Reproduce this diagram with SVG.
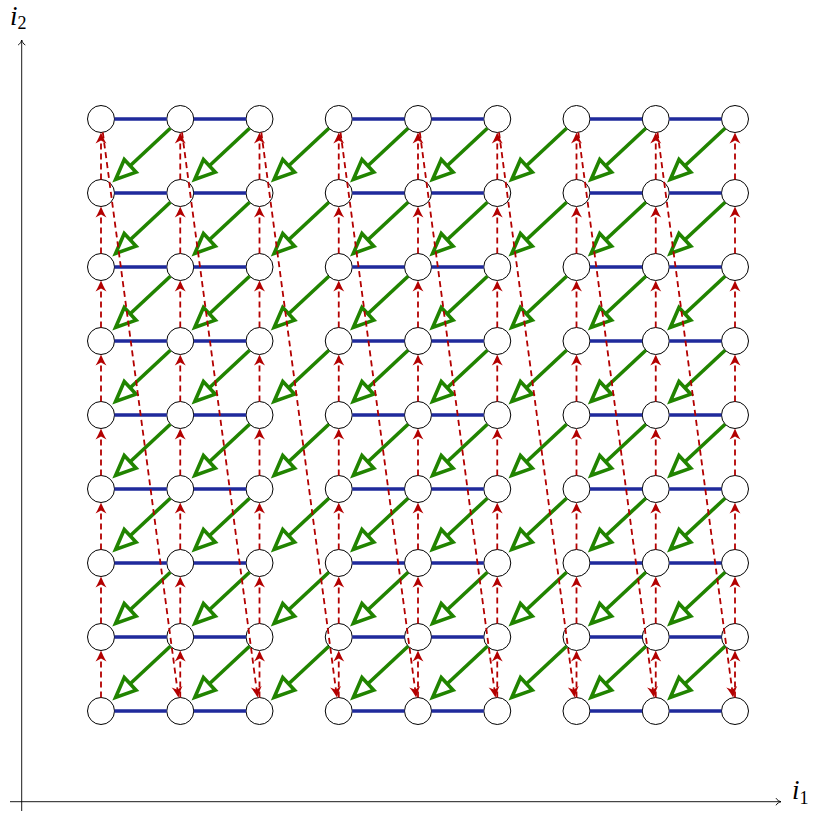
<svg xmlns="http://www.w3.org/2000/svg" width="814" height="817" viewBox="0 0 814 817">
<style>
.nd{fill:#fff;stroke:#000;stroke-width:1}
.bl{fill:none;stroke:#1f2a9c;stroke-width:3.4}
.gr{stroke:#218400;stroke-width:3.6;marker-end:url(#gh)}
.rd{stroke:#b30000;stroke-width:1.8;stroke-dasharray:6 4;marker-end:url(#rh)}
.ax{stroke:#000;stroke-width:0.9;fill:none;marker-end:url(#ah)}
.lb{font-family:"Liberation Serif",serif;font-style:italic;font-size:27px;fill:#000}
.sb{font-style:normal;font-size:18px}
</style>
<defs>
<marker id="gh" markerUnits="userSpaceOnUse" viewBox="-4 -14 34 28" markerWidth="34" markerHeight="28" refX="0" refY="0" orient="auto" overflow="visible"><path d="M0,-8.7 L20,0 L0,8.7 Z" fill="#fff" stroke="#218400" stroke-width="3.6"/></marker>
<marker id="rh" markerUnits="userSpaceOnUse" viewBox="-10 -7 15 14" markerWidth="15" markerHeight="14" refX="0" refY="0" orient="auto" overflow="visible"><path d="M3,0 C0,-1.2 -5,-3.5 -8,-5.5 L-5,0 L-8,5.5 C-5,3.5 0,1.2 3,0 Z" fill="#b30000"/></marker>
<marker id="ah" markerUnits="userSpaceOnUse" viewBox="-8 -6 10 12" markerWidth="10" markerHeight="12" refX="0" refY="0" orient="auto" overflow="visible"><path d="M-5,-3.6 C-4,-1.5 -1.5,-0.4 0,0 C-1.5,0.4 -4,1.5 -5,3.6" fill="none" stroke="#000" stroke-width="0.9"/></marker>
</defs>
<g id="axes">
<line class="ax" x1="21.7" y1="811" x2="21.7" y2="40"/>
<line class="ax" x1="10" y1="801.7" x2="781" y2="801.7"/>
<text class="lb" x="10" y="25">i<tspan class="sb" dy="4">2</tspan></text>
<text class="lb" x="792" y="799">i<tspan class="sb" dy="5">1</tspan></text>
</g>
<g id="nodes">
<g id="n00"><circle class="nd" cx="101" cy="119" r="13.5"/></g>
<g id="n01"><circle class="nd" cx="180.25" cy="119" r="13.5"/></g>
<g id="n02"><circle class="nd" cx="259.5" cy="119" r="13.5"/></g>
<g id="n03"><circle class="nd" cx="338.75" cy="119" r="13.5"/></g>
<g id="n04"><circle class="nd" cx="418" cy="119" r="13.5"/></g>
<g id="n05"><circle class="nd" cx="497.25" cy="119" r="13.5"/></g>
<g id="n06"><circle class="nd" cx="576.5" cy="119" r="13.5"/></g>
<g id="n07"><circle class="nd" cx="655.75" cy="119" r="13.5"/></g>
<g id="n08"><circle class="nd" cx="735" cy="119" r="13.5"/></g>
<g id="n10"><circle class="nd" cx="101" cy="193" r="13.5"/></g>
<g id="n11"><circle class="nd" cx="180.25" cy="193" r="13.5"/></g>
<g id="n12"><circle class="nd" cx="259.5" cy="193" r="13.5"/></g>
<g id="n13"><circle class="nd" cx="338.75" cy="193" r="13.5"/></g>
<g id="n14"><circle class="nd" cx="418" cy="193" r="13.5"/></g>
<g id="n15"><circle class="nd" cx="497.25" cy="193" r="13.5"/></g>
<g id="n16"><circle class="nd" cx="576.5" cy="193" r="13.5"/></g>
<g id="n17"><circle class="nd" cx="655.75" cy="193" r="13.5"/></g>
<g id="n18"><circle class="nd" cx="735" cy="193" r="13.5"/></g>
<g id="n20"><circle class="nd" cx="101" cy="267" r="13.5"/></g>
<g id="n21"><circle class="nd" cx="180.25" cy="267" r="13.5"/></g>
<g id="n22"><circle class="nd" cx="259.5" cy="267" r="13.5"/></g>
<g id="n23"><circle class="nd" cx="338.75" cy="267" r="13.5"/></g>
<g id="n24"><circle class="nd" cx="418" cy="267" r="13.5"/></g>
<g id="n25"><circle class="nd" cx="497.25" cy="267" r="13.5"/></g>
<g id="n26"><circle class="nd" cx="576.5" cy="267" r="13.5"/></g>
<g id="n27"><circle class="nd" cx="655.75" cy="267" r="13.5"/></g>
<g id="n28"><circle class="nd" cx="735" cy="267" r="13.5"/></g>
<g id="n30"><circle class="nd" cx="101" cy="341" r="13.5"/></g>
<g id="n31"><circle class="nd" cx="180.25" cy="341" r="13.5"/></g>
<g id="n32"><circle class="nd" cx="259.5" cy="341" r="13.5"/></g>
<g id="n33"><circle class="nd" cx="338.75" cy="341" r="13.5"/></g>
<g id="n34"><circle class="nd" cx="418" cy="341" r="13.5"/></g>
<g id="n35"><circle class="nd" cx="497.25" cy="341" r="13.5"/></g>
<g id="n36"><circle class="nd" cx="576.5" cy="341" r="13.5"/></g>
<g id="n37"><circle class="nd" cx="655.75" cy="341" r="13.5"/></g>
<g id="n38"><circle class="nd" cx="735" cy="341" r="13.5"/></g>
<g id="n40"><circle class="nd" cx="101" cy="415" r="13.5"/></g>
<g id="n41"><circle class="nd" cx="180.25" cy="415" r="13.5"/></g>
<g id="n42"><circle class="nd" cx="259.5" cy="415" r="13.5"/></g>
<g id="n43"><circle class="nd" cx="338.75" cy="415" r="13.5"/></g>
<g id="n44"><circle class="nd" cx="418" cy="415" r="13.5"/></g>
<g id="n45"><circle class="nd" cx="497.25" cy="415" r="13.5"/></g>
<g id="n46"><circle class="nd" cx="576.5" cy="415" r="13.5"/></g>
<g id="n47"><circle class="nd" cx="655.75" cy="415" r="13.5"/></g>
<g id="n48"><circle class="nd" cx="735" cy="415" r="13.5"/></g>
<g id="n50"><circle class="nd" cx="101" cy="489" r="13.5"/></g>
<g id="n51"><circle class="nd" cx="180.25" cy="489" r="13.5"/></g>
<g id="n52"><circle class="nd" cx="259.5" cy="489" r="13.5"/></g>
<g id="n53"><circle class="nd" cx="338.75" cy="489" r="13.5"/></g>
<g id="n54"><circle class="nd" cx="418" cy="489" r="13.5"/></g>
<g id="n55"><circle class="nd" cx="497.25" cy="489" r="13.5"/></g>
<g id="n56"><circle class="nd" cx="576.5" cy="489" r="13.5"/></g>
<g id="n57"><circle class="nd" cx="655.75" cy="489" r="13.5"/></g>
<g id="n58"><circle class="nd" cx="735" cy="489" r="13.5"/></g>
<g id="n60"><circle class="nd" cx="101" cy="563" r="13.5"/></g>
<g id="n61"><circle class="nd" cx="180.25" cy="563" r="13.5"/></g>
<g id="n62"><circle class="nd" cx="259.5" cy="563" r="13.5"/></g>
<g id="n63"><circle class="nd" cx="338.75" cy="563" r="13.5"/></g>
<g id="n64"><circle class="nd" cx="418" cy="563" r="13.5"/></g>
<g id="n65"><circle class="nd" cx="497.25" cy="563" r="13.5"/></g>
<g id="n66"><circle class="nd" cx="576.5" cy="563" r="13.5"/></g>
<g id="n67"><circle class="nd" cx="655.75" cy="563" r="13.5"/></g>
<g id="n68"><circle class="nd" cx="735" cy="563" r="13.5"/></g>
<g id="n70"><circle class="nd" cx="101" cy="637" r="13.5"/></g>
<g id="n71"><circle class="nd" cx="180.25" cy="637" r="13.5"/></g>
<g id="n72"><circle class="nd" cx="259.5" cy="637" r="13.5"/></g>
<g id="n73"><circle class="nd" cx="338.75" cy="637" r="13.5"/></g>
<g id="n74"><circle class="nd" cx="418" cy="637" r="13.5"/></g>
<g id="n75"><circle class="nd" cx="497.25" cy="637" r="13.5"/></g>
<g id="n76"><circle class="nd" cx="576.5" cy="637" r="13.5"/></g>
<g id="n77"><circle class="nd" cx="655.75" cy="637" r="13.5"/></g>
<g id="n78"><circle class="nd" cx="735" cy="637" r="13.5"/></g>
<g id="n80"><circle class="nd" cx="101" cy="711" r="13.5"/></g>
<g id="n81"><circle class="nd" cx="180.25" cy="711" r="13.5"/></g>
<g id="n82"><circle class="nd" cx="259.5" cy="711" r="13.5"/></g>
<g id="n83"><circle class="nd" cx="338.75" cy="711" r="13.5"/></g>
<g id="n84"><circle class="nd" cx="418" cy="711" r="13.5"/></g>
<g id="n85"><circle class="nd" cx="497.25" cy="711" r="13.5"/></g>
<g id="n86"><circle class="nd" cx="576.5" cy="711" r="13.5"/></g>
<g id="n87"><circle class="nd" cx="655.75" cy="711" r="13.5"/></g>
<g id="n88"><circle class="nd" cx="735" cy="711" r="13.5"/></g>
</g>
<g id="connectors">
<g id="blue">
<path class="bl" d="M114.5,119H166.75M193.75,119H246M352.25,119H404.5M431.5,119H483.75M590,119H642.25M669.25,119H721.5"/>
<path class="bl" d="M114.5,193H166.75M193.75,193H246M352.25,193H404.5M431.5,193H483.75M590,193H642.25M669.25,193H721.5"/>
<path class="bl" d="M114.5,267H166.75M193.75,267H246M352.25,267H404.5M431.5,267H483.75M590,267H642.25M669.25,267H721.5"/>
<path class="bl" d="M114.5,341H166.75M193.75,341H246M352.25,341H404.5M431.5,341H483.75M590,341H642.25M669.25,341H721.5"/>
<path class="bl" d="M114.5,415H166.75M193.75,415H246M352.25,415H404.5M431.5,415H483.75M590,415H642.25M669.25,415H721.5"/>
<path class="bl" d="M114.5,489H166.75M193.75,489H246M352.25,489H404.5M431.5,489H483.75M590,489H642.25M669.25,489H721.5"/>
<path class="bl" d="M114.5,563H166.75M193.75,563H246M352.25,563H404.5M431.5,563H483.75M590,563H642.25M669.25,563H721.5"/>
<path class="bl" d="M114.5,637H166.75M193.75,637H246M352.25,637H404.5M431.5,637H483.75M590,637H642.25M669.25,637H721.5"/>
<path class="bl" d="M114.5,711H166.75M193.75,711H246M352.25,711H404.5M431.5,711H483.75M590,711H642.25M669.25,711H721.5"/>
</g>
<g id="green">
<line class="gr" x1="170.4" y1="128.2" x2="130.2" y2="165.8"/><line class="gr" x1="249.6" y1="128.2" x2="209.4" y2="165.8"/><line class="gr" x1="328.9" y1="128.2" x2="288.7" y2="165.8"/><line class="gr" x1="408.1" y1="128.2" x2="367.9" y2="165.8"/><line class="gr" x1="487.4" y1="128.2" x2="447.2" y2="165.8"/><line class="gr" x1="566.6" y1="128.2" x2="526.4" y2="165.8"/><line class="gr" x1="645.9" y1="128.2" x2="605.7" y2="165.8"/><line class="gr" x1="725.1" y1="128.2" x2="684.9" y2="165.8"/>
<line class="gr" x1="170.4" y1="202.2" x2="130.2" y2="239.8"/><line class="gr" x1="249.6" y1="202.2" x2="209.4" y2="239.8"/><line class="gr" x1="328.9" y1="202.2" x2="288.7" y2="239.8"/><line class="gr" x1="408.1" y1="202.2" x2="367.9" y2="239.8"/><line class="gr" x1="487.4" y1="202.2" x2="447.2" y2="239.8"/><line class="gr" x1="566.6" y1="202.2" x2="526.4" y2="239.8"/><line class="gr" x1="645.9" y1="202.2" x2="605.7" y2="239.8"/><line class="gr" x1="725.1" y1="202.2" x2="684.9" y2="239.8"/>
<line class="gr" x1="170.4" y1="276.2" x2="130.2" y2="313.8"/><line class="gr" x1="249.6" y1="276.2" x2="209.4" y2="313.8"/><line class="gr" x1="328.9" y1="276.2" x2="288.7" y2="313.8"/><line class="gr" x1="408.1" y1="276.2" x2="367.9" y2="313.8"/><line class="gr" x1="487.4" y1="276.2" x2="447.2" y2="313.8"/><line class="gr" x1="566.6" y1="276.2" x2="526.4" y2="313.8"/><line class="gr" x1="645.9" y1="276.2" x2="605.7" y2="313.8"/><line class="gr" x1="725.1" y1="276.2" x2="684.9" y2="313.8"/>
<line class="gr" x1="170.4" y1="350.2" x2="130.2" y2="387.8"/><line class="gr" x1="249.6" y1="350.2" x2="209.4" y2="387.8"/><line class="gr" x1="328.9" y1="350.2" x2="288.7" y2="387.8"/><line class="gr" x1="408.1" y1="350.2" x2="367.9" y2="387.8"/><line class="gr" x1="487.4" y1="350.2" x2="447.2" y2="387.8"/><line class="gr" x1="566.6" y1="350.2" x2="526.4" y2="387.8"/><line class="gr" x1="645.9" y1="350.2" x2="605.7" y2="387.8"/><line class="gr" x1="725.1" y1="350.2" x2="684.9" y2="387.8"/>
<line class="gr" x1="170.4" y1="424.2" x2="130.2" y2="461.8"/><line class="gr" x1="249.6" y1="424.2" x2="209.4" y2="461.8"/><line class="gr" x1="328.9" y1="424.2" x2="288.7" y2="461.8"/><line class="gr" x1="408.1" y1="424.2" x2="367.9" y2="461.8"/><line class="gr" x1="487.4" y1="424.2" x2="447.2" y2="461.8"/><line class="gr" x1="566.6" y1="424.2" x2="526.4" y2="461.8"/><line class="gr" x1="645.9" y1="424.2" x2="605.7" y2="461.8"/><line class="gr" x1="725.1" y1="424.2" x2="684.9" y2="461.8"/>
<line class="gr" x1="170.4" y1="498.2" x2="130.2" y2="535.8"/><line class="gr" x1="249.6" y1="498.2" x2="209.4" y2="535.8"/><line class="gr" x1="328.9" y1="498.2" x2="288.7" y2="535.8"/><line class="gr" x1="408.1" y1="498.2" x2="367.9" y2="535.8"/><line class="gr" x1="487.4" y1="498.2" x2="447.2" y2="535.8"/><line class="gr" x1="566.6" y1="498.2" x2="526.4" y2="535.8"/><line class="gr" x1="645.9" y1="498.2" x2="605.7" y2="535.8"/><line class="gr" x1="725.1" y1="498.2" x2="684.9" y2="535.8"/>
<line class="gr" x1="170.4" y1="572.2" x2="130.2" y2="609.8"/><line class="gr" x1="249.6" y1="572.2" x2="209.4" y2="609.8"/><line class="gr" x1="328.9" y1="572.2" x2="288.7" y2="609.8"/><line class="gr" x1="408.1" y1="572.2" x2="367.9" y2="609.8"/><line class="gr" x1="487.4" y1="572.2" x2="447.2" y2="609.8"/><line class="gr" x1="566.6" y1="572.2" x2="526.4" y2="609.8"/><line class="gr" x1="645.9" y1="572.2" x2="605.7" y2="609.8"/><line class="gr" x1="725.1" y1="572.2" x2="684.9" y2="609.8"/>
<line class="gr" x1="170.4" y1="646.2" x2="130.2" y2="683.8"/><line class="gr" x1="249.6" y1="646.2" x2="209.4" y2="683.8"/><line class="gr" x1="328.9" y1="646.2" x2="288.7" y2="683.8"/><line class="gr" x1="408.1" y1="646.2" x2="367.9" y2="683.8"/><line class="gr" x1="487.4" y1="646.2" x2="447.2" y2="683.8"/><line class="gr" x1="566.6" y1="646.2" x2="526.4" y2="683.8"/><line class="gr" x1="645.9" y1="646.2" x2="605.7" y2="683.8"/><line class="gr" x1="725.1" y1="646.2" x2="684.9" y2="683.8"/>
</g>
<g id="red-vertical">
<line class="rd" x1="101" y1="179.5" x2="101" y2="135.5"/><line class="rd" x1="101" y1="253.5" x2="101" y2="209.5"/><line class="rd" x1="101" y1="327.5" x2="101" y2="283.5"/><line class="rd" x1="101" y1="401.5" x2="101" y2="357.5"/><line class="rd" x1="101" y1="475.5" x2="101" y2="431.5"/><line class="rd" x1="101" y1="549.5" x2="101" y2="505.5"/><line class="rd" x1="101" y1="623.5" x2="101" y2="579.5"/><line class="rd" x1="101" y1="697.5" x2="101" y2="653.5"/>
<line class="rd" x1="180.25" y1="179.5" x2="180.25" y2="135.5"/><line class="rd" x1="180.25" y1="253.5" x2="180.25" y2="209.5"/><line class="rd" x1="180.25" y1="327.5" x2="180.25" y2="283.5"/><line class="rd" x1="180.25" y1="401.5" x2="180.25" y2="357.5"/><line class="rd" x1="180.25" y1="475.5" x2="180.25" y2="431.5"/><line class="rd" x1="180.25" y1="549.5" x2="180.25" y2="505.5"/><line class="rd" x1="180.25" y1="623.5" x2="180.25" y2="579.5"/><line class="rd" x1="180.25" y1="697.5" x2="180.25" y2="653.5"/>
<line class="rd" x1="259.5" y1="179.5" x2="259.5" y2="135.5"/><line class="rd" x1="259.5" y1="253.5" x2="259.5" y2="209.5"/><line class="rd" x1="259.5" y1="327.5" x2="259.5" y2="283.5"/><line class="rd" x1="259.5" y1="401.5" x2="259.5" y2="357.5"/><line class="rd" x1="259.5" y1="475.5" x2="259.5" y2="431.5"/><line class="rd" x1="259.5" y1="549.5" x2="259.5" y2="505.5"/><line class="rd" x1="259.5" y1="623.5" x2="259.5" y2="579.5"/><line class="rd" x1="259.5" y1="697.5" x2="259.5" y2="653.5"/>
<line class="rd" x1="338.75" y1="179.5" x2="338.75" y2="135.5"/><line class="rd" x1="338.75" y1="253.5" x2="338.75" y2="209.5"/><line class="rd" x1="338.75" y1="327.5" x2="338.75" y2="283.5"/><line class="rd" x1="338.75" y1="401.5" x2="338.75" y2="357.5"/><line class="rd" x1="338.75" y1="475.5" x2="338.75" y2="431.5"/><line class="rd" x1="338.75" y1="549.5" x2="338.75" y2="505.5"/><line class="rd" x1="338.75" y1="623.5" x2="338.75" y2="579.5"/><line class="rd" x1="338.75" y1="697.5" x2="338.75" y2="653.5"/>
<line class="rd" x1="418" y1="179.5" x2="418" y2="135.5"/><line class="rd" x1="418" y1="253.5" x2="418" y2="209.5"/><line class="rd" x1="418" y1="327.5" x2="418" y2="283.5"/><line class="rd" x1="418" y1="401.5" x2="418" y2="357.5"/><line class="rd" x1="418" y1="475.5" x2="418" y2="431.5"/><line class="rd" x1="418" y1="549.5" x2="418" y2="505.5"/><line class="rd" x1="418" y1="623.5" x2="418" y2="579.5"/><line class="rd" x1="418" y1="697.5" x2="418" y2="653.5"/>
<line class="rd" x1="497.25" y1="179.5" x2="497.25" y2="135.5"/><line class="rd" x1="497.25" y1="253.5" x2="497.25" y2="209.5"/><line class="rd" x1="497.25" y1="327.5" x2="497.25" y2="283.5"/><line class="rd" x1="497.25" y1="401.5" x2="497.25" y2="357.5"/><line class="rd" x1="497.25" y1="475.5" x2="497.25" y2="431.5"/><line class="rd" x1="497.25" y1="549.5" x2="497.25" y2="505.5"/><line class="rd" x1="497.25" y1="623.5" x2="497.25" y2="579.5"/><line class="rd" x1="497.25" y1="697.5" x2="497.25" y2="653.5"/>
<line class="rd" x1="576.5" y1="179.5" x2="576.5" y2="135.5"/><line class="rd" x1="576.5" y1="253.5" x2="576.5" y2="209.5"/><line class="rd" x1="576.5" y1="327.5" x2="576.5" y2="283.5"/><line class="rd" x1="576.5" y1="401.5" x2="576.5" y2="357.5"/><line class="rd" x1="576.5" y1="475.5" x2="576.5" y2="431.5"/><line class="rd" x1="576.5" y1="549.5" x2="576.5" y2="505.5"/><line class="rd" x1="576.5" y1="623.5" x2="576.5" y2="579.5"/><line class="rd" x1="576.5" y1="697.5" x2="576.5" y2="653.5"/>
<line class="rd" x1="655.75" y1="179.5" x2="655.75" y2="135.5"/><line class="rd" x1="655.75" y1="253.5" x2="655.75" y2="209.5"/><line class="rd" x1="655.75" y1="327.5" x2="655.75" y2="283.5"/><line class="rd" x1="655.75" y1="401.5" x2="655.75" y2="357.5"/><line class="rd" x1="655.75" y1="475.5" x2="655.75" y2="431.5"/><line class="rd" x1="655.75" y1="549.5" x2="655.75" y2="505.5"/><line class="rd" x1="655.75" y1="623.5" x2="655.75" y2="579.5"/><line class="rd" x1="655.75" y1="697.5" x2="655.75" y2="653.5"/>
<line class="rd" x1="735" y1="179.5" x2="735" y2="135.5"/><line class="rd" x1="735" y1="253.5" x2="735" y2="209.5"/><line class="rd" x1="735" y1="327.5" x2="735" y2="283.5"/><line class="rd" x1="735" y1="401.5" x2="735" y2="357.5"/><line class="rd" x1="735" y1="475.5" x2="735" y2="431.5"/><line class="rd" x1="735" y1="549.5" x2="735" y2="505.5"/><line class="rd" x1="735" y1="623.5" x2="735" y2="579.5"/><line class="rd" x1="735" y1="697.5" x2="735" y2="653.5"/>
</g>
<g id="red-slanted">
<line class="rd" x1="102.8" y1="132.4" x2="178.1" y2="694.6"/>
<line class="rd" x1="182" y1="132.4" x2="257.3" y2="694.6"/>
<line class="rd" x1="261.3" y1="132.4" x2="336.6" y2="694.6"/>
<line class="rd" x1="340.5" y1="132.4" x2="415.8" y2="694.6"/>
<line class="rd" x1="419.8" y1="132.4" x2="495.1" y2="694.6"/>
<line class="rd" x1="499" y1="132.4" x2="574.3" y2="694.6"/>
<line class="rd" x1="578.3" y1="132.4" x2="653.6" y2="694.6"/>
<line class="rd" x1="657.5" y1="132.4" x2="732.8" y2="694.6"/>
</g>
</g>
</svg>
